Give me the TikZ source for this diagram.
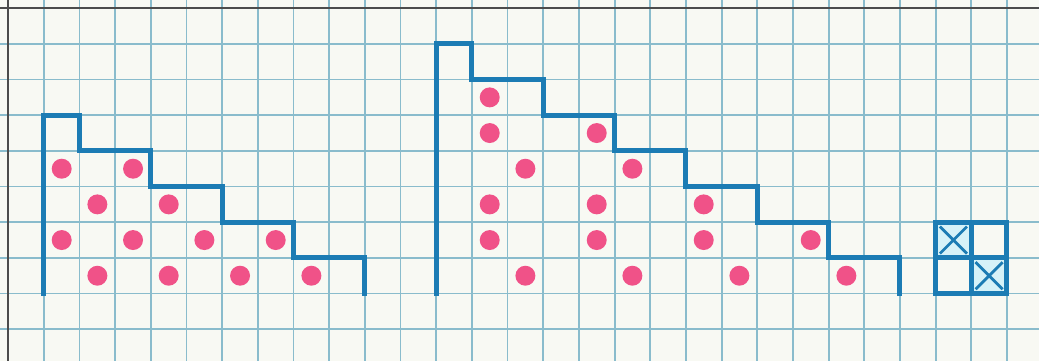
\documentclass[tikz,border=0pt]{standalone}
\definecolor{paper}{RGB}{248,249,243}
\definecolor{gridblue}{RGB}{138,188,204}
\definecolor{stairblue}{RGB}{28,124,180}
\definecolor{dotpink}{RGB}{240,82,136}
\definecolor{crossfill}{RGB}{214,242,248}
\begin{document}
\begin{tikzpicture}[
  gridline/.style={gridblue,line width=1.5pt},
  stair/.style={stairblue,line width=4pt,line join=miter,line cap=rect},
  bead/.style={dotpink}]
\fill[paper] (-0.23,0.23) rectangle (28.9,-9.89);
\useasboundingbox (-0.23,0.23) rectangle (28.9,-9.89);
\draw[gridline] (-0.23,-9.89) grid (28.9,0.23);
\draw[gray!60!black,line width=1.3pt] (-0.23,0) -- (28.9,0);
\draw[gray!60!black,line width=1.3pt] (0,0.23) -- (0,-9.89);
\begin{scope}
\foreach \i/\j in {1/4,3/4,2/5,4/5,1/6,3/6,5/6,7/6,2/7,4/7,6/7,8/7}
  \fill[bead] (\i+0.5,-\j-0.5) circle (0.28);
\draw[stair] (1,-8) |- (2,-3) |- (4,-4) |- (6,-5) |- (8,-6) |- (10,-7) -- (10,-8);
\end{scope}
\begin{scope}
\foreach \i/\j in {13/2,13/3,16/3,14/4,17/4,13/5,16/5,19/5,13/6,16/6,19/6,22/6,14/7,17/7,20/7,23/7}
  \fill[bead] (\i+0.5,-\j-0.5) circle (0.28);
\draw[stair] (12,-8) |- (13,-1) |- (15,-2) |- (17,-3) |- (19,-4) |- (21,-5) |- (23,-6) |- (25,-7) -- (25,-8);
\end{scope}
\begin{scope}
\fill[crossfill] (26,-6) rectangle (27,-7);
\fill[crossfill] (27,-7) rectangle (28,-8);
\draw[stairblue,line width=2.2pt] (26.12,-6.12) -- (26.88,-6.88) (26.12,-6.88) -- (26.88,-6.12);
\draw[stairblue,line width=2.2pt] (27.12,-7.12) -- (27.88,-7.88) (27.12,-7.88) -- (27.88,-7.12);
\draw[stair] (26,-6) grid (28,-8);
\end{scope}
\end{tikzpicture}
\end{document}
